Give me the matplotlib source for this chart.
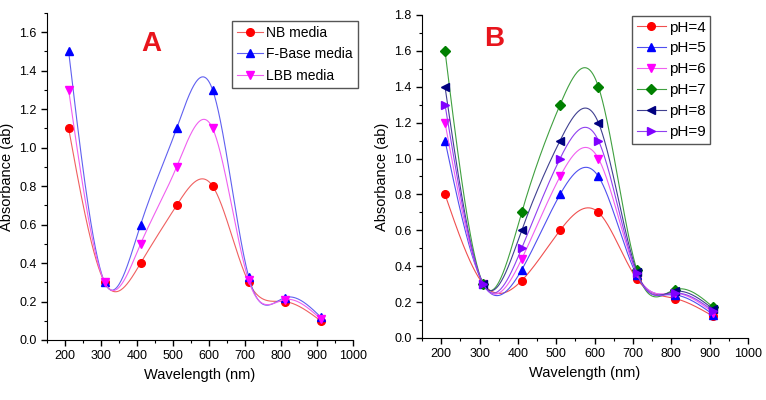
import numpy as np
import matplotlib
matplotlib.use("Agg")
import matplotlib.pyplot as plt
from matplotlib.ticker import MultipleLocator

plt.rcParams['font.family'] = ['Liberation Sans', 'DejaVu Sans']

wavelength = [210, 310, 410, 510, 610, 710, 810, 910]

# Panel A
nb_media = [1.10, 0.30, 0.40, 0.70, 0.80, 0.30, 0.20, 0.10]
fbase_media = [1.50, 0.30, 0.60, 1.10, 1.30, 0.33, 0.22, 0.12]
lbb_media = [1.30, 0.30, 0.50, 0.90, 1.10, 0.31, 0.21, 0.11]
labels_a = ["NB media", "F-Base media", "LBB media"]

# Panel B
ph4 = [0.80, 0.30, 0.32, 0.60, 0.70, 0.33, 0.22, 0.12]
ph5 = [1.10, 0.30, 0.38, 0.80, 0.90, 0.35, 0.24, 0.13]
ph6 = [1.20, 0.30, 0.44, 0.90, 1.00, 0.36, 0.25, 0.14]
ph7 = [1.60, 0.30, 0.70, 1.30, 1.40, 0.38, 0.27, 0.17]
ph8 = [1.40, 0.30, 0.60, 1.10, 1.20, 0.37, 0.26, 0.16]
ph9 = [1.30, 0.30, 0.50, 1.00, 1.10, 0.36, 0.25, 0.15]
labels_b = ["pH=4", "pH=5", "pH=6", "pH=7", "pH=8", "pH=9"]


def natural_spline(x, y, n=400):
    x = np.asarray(x, float)
    y = np.asarray(y, float)
    k = len(x)
    h = np.diff(x)
    A = np.zeros((k, k))
    b = np.zeros(k)
    A[0, 0] = 1
    A[-1, -1] = 1
    for i in range(1, k - 1):
        A[i, i - 1] = h[i - 1]
        A[i, i] = 2 * (h[i - 1] + h[i])
        A[i, i + 1] = h[i]
        b[i] = 3 * ((y[i + 1] - y[i]) / h[i] - (y[i] - y[i - 1]) / h[i - 1])
    c = np.linalg.solve(A, b)
    xs = np.linspace(x[0], x[-1], n)
    idx = np.clip(np.searchsorted(x, xs) - 1, 0, k - 2)
    dx = xs - x[idx]
    hi = h[idx]
    bb = (y[idx + 1] - y[idx]) / hi - hi * (2 * c[idx] + c[idx + 1]) / 3
    dd = (c[idx + 1] - c[idx]) / (3 * hi)
    ys = y[idx] + bb * dx + c[idx] * dx ** 2 + dd * dx ** 3
    return xs, ys


fig = plt.figure(figsize=(7.66, 4.0), dpi=100)
axA = fig.add_axes([0.0614, 0.15, 0.3995, 0.8175])
axB = fig.add_axes([0.5509, 0.155, 0.4256, 0.8075])


def style(ax, ymax, title, tx, ty):
    ax.set_xlim(150, 1000)
    ax.set_ylim(0, ymax)
    ax.spines['top'].set_visible(False)
    ax.spines['right'].set_visible(False)
    ax.xaxis.set_minor_locator(MultipleLocator(50))
    ax.yaxis.set_major_locator(MultipleLocator(0.2))
    ax.yaxis.set_minor_locator(MultipleLocator(0.1))
    ax.tick_params(direction='out', labelsize=9, length=4, width=1)
    ax.tick_params(which='minor', direction='out', length=2.5, width=0.8)
    ax.set_xticks(np.arange(200, 1001, 100))
    ax.yaxis.set_major_formatter(matplotlib.ticker.FormatStrFormatter('%.1f'))
    ax.set_xlabel("Wavelength (nm)", fontsize=10.5)
    ax.set_ylabel("Absorbance (ab)", fontsize=10.5)
    ax.text(tx, ty, title, transform=ax.transAxes, color='#e8141c',
            fontsize=20, fontweight='bold', ha='center', va='center')


series_a = [nb_media, fbase_media, lbb_media]
colors_a = ['#ff0000', '#0000ff', '#ff00ff']
line_a = ['#f06060', '#6060f0', '#f060f0']
markers_a = ['o', '^', 'v']
for ys, lab, c, lc, m in zip(series_a, labels_a, colors_a, line_a, markers_a):
    xs, sy = natural_spline(wavelength, ys)
    axA.plot(xs, sy, color=lc, lw=0.8)
    axA.plot(wavelength, ys, linestyle='none', marker=m, color=c, ms=5.5)
    axA.plot([], [], color=lc, lw=0.8, marker=m, mfc=c, mec=c, ms=5.5, label=lab)
style(axA, 1.7, "A", 0.34, 0.905)
hA, lA = axA.get_legend_handles_labels()
axA.legend(hA, lA, loc='upper left', bbox_to_anchor=(0.605, 0.976), fontsize=10,
           frameon=True, fancybox=False, edgecolor='#555555', framealpha=1,
           handlelength=1.9, handletextpad=0.2, borderpad=0.35, labelspacing=0.55,
           borderaxespad=0)

series_b = [ph4, ph5, ph6, ph7, ph8, ph9]
colors_b = ['#ff0000', '#0000ff', '#ff00ff', '#008000', '#000080', '#8000ff']
line_b = ['#f05050', '#5050f0', '#f060f0', '#40a040', '#404090', '#9040f0']
markers_b = ['o', '^', 'v', 'D', '<', '>']
for ys, lab, c, lc, m in zip(series_b, labels_b, colors_b, line_b, markers_b):
    xs, sy = natural_spline(wavelength, ys)
    axB.plot(xs, sy, color=lc, lw=0.8)
    axB.plot(wavelength, ys, linestyle='none', marker=m, color=c,
             ms=5 if m == 'D' else 5.5)
    axB.plot([], [], color=lc, lw=0.8, marker=m, mfc=c, mec=c,
             ms=5 if m == 'D' else 5.5, label=lab)
style(axB, 1.8, "B", 0.22, 0.925)
hB, lB = axB.get_legend_handles_labels()
axB.legend(hB, lB, loc='upper left', bbox_to_anchor=(0.644, 0.997), fontsize=11,
           frameon=True, fancybox=False, edgecolor='#555555', framealpha=1,
           handlelength=1.9, handletextpad=0.2, borderpad=0.3, labelspacing=0.45,
           borderaxespad=0)

fig.savefig("out.png", dpi=100)
